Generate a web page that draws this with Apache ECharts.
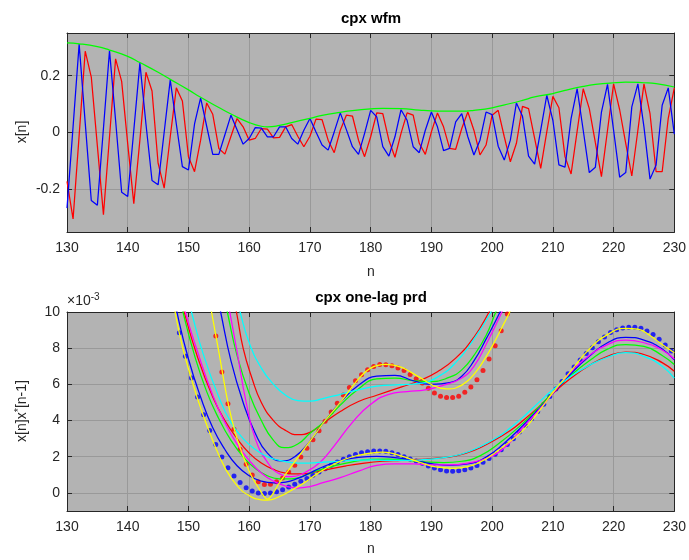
<!DOCTYPE html>
<html><head><meta charset="utf-8">
<script src="https://cdn.jsdelivr.net/npm/echarts@6/dist/echarts.min.js"></script>
<style>html,body{margin:0;padding:0;background:#fff}#c{width:689px;height:560px}</style>
</head><body><div id="c"></div>
<script>
// ---------- top panel: complex waveform ----------
const nTop = [130,131,132,133,134,135,136,137,138,139,140,141,142,143,144,145,146,147,148,149,
150,151,152,153,154,155,156,157,158,159,160,161,162,163,164,165,166,167,168,169,
170,171,172,173,174,175,176,177,178,179,180,181,182,183,184,185,186,187,188,189,
190,191,192,193,194,195,196,197,198,199,200,201,202,203,204,205,206,207,208,209,
210,211,212,213,214,215,216,217,218,219,220,221,222,223,224,225,226,227,228,229,230];
const reTop = [-0.266,0.02,0.311,0.034,-0.239,-0.256,0.014,0.288,0.043,-0.21,
-0.225,0.008,0.244,0.03,-0.169,-0.184,0.001,0.185,0.03,-0.12,
-0.132,0.03,0.122,0.022,-0.077,-0.077,-0.008,0.061,0.01,-0.041,
-0.021,0.017,0.015,-0.015,-0.015,0.02,0.02,-0.021,-0.041,0.008,
0.049,0.002,-0.044,-0.062,0.002,0.069,0.01,-0.05,-0.077,-0.003,
0.078,0.055,-0.05,-0.083,-0.015,0.08,0.043,-0.05,-0.071,0.008,
0.072,0.02,-0.064,-0.056,0.037,0.066,-0.015,-0.079,-0.027,0.072,
0.063,-0.048,-0.097,-0.027,0.104,0.057,-0.083,-0.111,0.008,0.131,
0.043,-0.114,-0.122,0.049,0.154,0.008,-0.141,-0.122,0.072,0.169,
0.008,-0.157,-0.141,0.09,0.171,0.02,-0.164,-0.114,0.096,0.157,-0.006];
const imTop = [-0.172,-0.304,-0.01,0.286,0.195,-0.047,-0.289,-0.015,0.259,0.18,
-0.04,-0.25,-0.027,0.212,0.146,-0.108,-0.196,-0.015,0.157,0.111,
-0.085,-0.138,-0.027,0.104,0.064,-0.056,-0.076,-0.013,0.049,0.02,
-0.027,-0.021,0.014,0.012,-0.019,-0.017,0.02,0.028,-0.013,-0.05,
-0.013,0.047,0.045,-0.027,-0.071,0.008,0.061,0.058,-0.027,-0.085,
-0.015,0.069,0.066,-0.027,-0.087,-0.003,0.069,0.061,-0.038,-0.077,
0.002,0.069,0.02,-0.056,-0.059,0.014,0.072,0.008,-0.079,-0.044,
0.061,0.078,-0.015,-0.103,-0.038,0.092,0.084,-0.021,-0.126,0.002,
0.127,0.087,-0.085,-0.146,0.005,0.154,0.084,-0.036,-0.155,0.008,
0.171,0.08,-0.038,-0.153,0.008,0.171,0.066,-0.138,-0.138,0.05,0.157];
const envN = [130,132,135,137,140,142,145,147,150,152,155,157,160,162,163,165,167,170,172,175,177,180,182,185,188,190,192,195,197,200,203,205,207,210,212,215,217,220,222,225,227,230];
const envV = [0.315,0.312,0.302,0.29,0.268,0.246,0.212,0.187,0.15,0.124,0.088,0.065,0.035,0.022,0.02,0.025,0.035,0.05,0.06,0.071,0.077,0.083,0.085,0.084,0.079,0.076,0.075,0.075,0.078,0.087,0.102,0.113,0.125,0.137,0.148,0.162,0.169,0.175,0.177,0.175,0.172,0.16];

// ---------- bottom panel: one-lag product (x1e-3) ----------
// upper family
const cyanB_n = [157.8,158.5,160,162,164,166,168,170,172,175,178,181,185,188,191,194,197,200,201];
const cyanB_v = [11,10,8.3,6.9,6.0,5.4,5.1,5.07,5.2,5.45,5.7,5.9,5.98,6.05,6.4,7.2,8.5,10.1,10.8];
const redB_n = [157.2,157.9,159,160.5,162,164,166,168,170,172,175,178,181,185,188,191,194,197,199.5,200.5];
const redB_v = [11,10,8.0,6.3,5.0,4.0,3.45,3.22,3.35,3.8,4.5,5.05,5.4,5.85,6.2,6.7,7.45,8.6,10,10.7];
const greenB_n = [155.8,156.4,158,160,162,164,165.8,168,170,172.4,175,178,181,184,187,190,193,195,197,199,200.6,201.5];
const greenB_v = [11,10,7.6,5.5,4.0,2.9,2.5,2.7,3.3,3.95,4.85,5.75,6.3,6.35,6.2,6.15,6.4,6.8,7.6,8.7,10,10.7];
const blueB_n = [154.7,155.3,157,159,161,163,165.3,167.5,170,172.4,175,178,181,184,187,190,193,195,197,199,201.3,202];
const blueB_v = [11,10,7.3,5.0,3.3,2.2,1.77,2.0,2.85,3.95,5.0,5.95,6.45,6.5,6.2,6.0,6.1,6.45,7.3,8.5,10,10.6];
const magentaB_n = [156.2,156.8,158,159.5,161,163,165,167,169,171.6,174,177,180,183,186,189,192,195,197,199,201.6,202.3];
const magentaB_v = [11,10,7.8,5.0,3.0,1.7,1.05,0.9,1.1,1.67,2.6,3.9,4.9,5.45,5.6,5.7,5.95,6.35,7.0,8.2,10,10.6];
const yellowB_n = [153.3,153.8,155,156.5,158,160,161.5,163,165,167,169,171,172.4,175,178,180,182.5,185,188,190.5,192.5,194,196,198,200,202,202.9,203.5];
const yellowB_v = [11,10,7.8,5.0,3.0,1.2,0.3,-0.35,0.57,1.5,2.4,3.3,3.95,5.0,6.3,6.9,7.1,6.95,6.4,5.9,5.75,5.8,6.2,7.0,8.1,9.4,10,10.5];
// lower family
const yellowA_n = [147.3,147.8,149,150.5,152,154,156,158,160,162,163,165,167,169,171.6,174,177,180,182,185,188,191,193.5,196,198,200,202,205,208,210,213,216,219,222,224,226,228,230];
const yellowA_v = [11,10,8.1,6.3,4.7,2.9,1.4,0.4,-0.15,-0.38,-0.4,-0.2,0.15,0.55,1.15,1.6,2.0,2.2,2.25,2.05,1.7,1.42,1.36,1.45,1.7,2.1,2.6,3.43,4.65,5.55,6.75,7.95,8.75,9.1,9.05,8.7,8.2,7.75];
const blueA_n = [147.6,148.1,150,152,154,156,158,160,162,164,166,168,170,172,175,178,181,184,187,190,193,196,199,202,205,208,210,213,216,219,222,225,228,230];
const blueA_v = [11,10,7.4,5.3,3.6,2.4,1.5,0.95,0.65,0.55,0.6,0.8,1.1,1.42,1.78,1.97,2.02,1.95,1.8,1.62,1.52,1.6,1.98,2.75,3.7,4.75,5.5,6.6,7.55,8.3,8.6,8.45,7.95,7.35];
const greenA_n = [148.5,149.1,151,153,155,157,159,161,163,165,167,169,171,174,177,180,183,186,189,192,195,198,201,205,208,210,213,216,219,222,225,228,230];
const greenA_v = [11,10,7.6,5.6,4.1,2.9,2.0,1.35,0.95,0.78,0.78,0.95,1.2,1.5,1.72,1.85,1.87,1.8,1.72,1.68,1.75,2.05,2.7,3.83,4.85,5.55,6.5,7.3,7.95,8.2,8.1,7.6,7.1];
const redA_n = [148.7,149.3,151.5,154,156,158,160,162,164,166,168,170,173,176,179,182,185,188,191,194,197,200,203,205,208,210,213,216,219,222,225,228,230];
const redA_v = [11,10,7.5,5.3,4.0,3.0,2.2,1.65,1.3,1.1,1.05,1.1,1.3,1.5,1.65,1.75,1.8,1.85,1.92,2.05,2.35,2.85,3.45,3.97,4.85,5.5,6.35,7.05,7.55,7.78,7.65,7.2,6.72];
const magentaA_n = [149,149.5,151.5,154,156,158,160,162,164,166,168,170,172,175,178,181,184,187,190,193,196,199,202,205,208,210,213,216,219,222,225,228,230];
const magentaA_v = [11,10,7.8,5.4,3.9,2.7,1.8,1.1,0.65,0.38,0.27,0.35,0.55,0.85,1.2,1.52,1.6,1.6,1.55,1.55,1.65,1.9,2.5,3.6,4.7,5.5,6.7,7.6,8.2,8.45,8.3,7.9,7.4];
const cyanA_n = [149.8,150.5,152.5,155,157,159,161,163,165,167,169,171,174,177,180,183,186,189,192,195,198,201,203,205,208,210,213,216,219,222,225,228,230];
const cyanA_v = [11,10,7.6,5.3,3.9,3.0,2.4,2.0,1.8,1.68,1.65,1.67,1.73,1.8,1.82,1.8,1.8,1.85,1.95,2.15,2.55,3.1,3.6,4.16,5.1,5.7,6.45,7.05,7.5,7.75,7.55,7.0,6.35];
// sampled products (dots)
const redDot_n = [154.5,155.5,156.5,157.5,158.5,159.5,160.5,161.5,162.5,163.5,164.5,165.5,166.5,167.5,168.5,169.5,170.5,171.5,172.5,173.5,174.5,175.5,176.5,177.5,178.5,179.5,180.5,181.5,182.5,183.5,184.5,185.5,186.5,187.5,188.5,189.5,190.5,191.5,192.5,193.5,194.5,195.5,196.5,197.5,198.5,199.5,200.5,201.5,202.5];
const redDot_v = [8.67,6.68,4.93,3.52,2.41,1.58,0.99,0.62,0.46,0.48,0.62,0.83,1.16,1.53,1.99,2.47,2.94,3.44,3.96,4.47,4.95,5.41,5.83,6.2,6.53,6.81,6.99,7.1,7.09,7.03,6.9,6.76,6.54,6.31,6.08,5.78,5.52,5.34,5.28,5.28,5.34,5.56,5.85,6.26,6.77,7.4,8.14,8.97,9.89];
const blueDot_n = [148.5,149.5,150.5,151.5,152.5,153.5,154.5,155.5,156.5,157.5,158.5,159.5,160.5,161.5,162.5,163.5,164.5,165.5,166.5,167.5,168.5,169.5,170.5,171.5,172.5,173.5,174.5,175.5,176.5,177.5,178.5,179.5,180.5,181.5,182.5,183.5,184.5,185.5,186.5,187.5,188.5,189.5,190.5,191.5,192.5,193.5,194.5,195.5,196.5,197.5,198.5,199.5,200.5,201.5,202.5,203.5,204.5,205.5,206.5,207.5,208.5,209.5,210.5,211.5,212.5,213.5,214.5,215.5,216.5,217.5,218.5,219.5,220.5,221.5,222.5,223.5,224.5,225.5,226.5,227.5,228.5,229.5];
const blueDot_v = [8.85,7.55,6.35,5.3,4.32,3.45,2.67,1.98,1.39,0.93,0.57,0.29,0.1,0.0,-0.03,0.0,0.07,0.18,0.33,0.48,0.64,0.8,0.98,1.15,1.33,1.53,1.71,1.86,2.0,2.12,2.22,2.28,2.31,2.32,2.3,2.22,2.12,2.0,1.88,1.77,1.64,1.49,1.37,1.28,1.21,1.2,1.22,1.28,1.37,1.51,1.69,1.9,2.14,2.38,2.68,3.0,3.36,3.72,4.1,4.5,4.9,5.33,5.75,6.16,6.58,6.96,7.34,7.7,8.03,8.35,8.62,8.86,9.02,9.11,9.16,9.16,9.1,8.95,8.76,8.5,8.18,7.85];

const xTicks = {min:130, max:230, interval:10};
const FONT = 'Liberation Sans, Arial, sans-serif';
const INK = '#262626';
const LW = 1.25;
const zip = (a,b) => a.map((v,i)=>[v,b[i]]);

function xAx(g, pos, main){
  return {type:'value', gridIndex:g, position:pos, min:xTicks.min, max:xTicks.max, interval:xTicks.interval,
    axisLine:{show:true, onZero:false, lineStyle:{color:INK, width:1}},
    axisTick:{show:true, inside:true, length:5, lineStyle:{color:INK}},
    axisLabel:{show:main, color:INK, fontSize:14, fontFamily:FONT, margin:9},
    splitLine:{show:main, lineStyle:{color:'#999999', width:1}}};
}
function yAx(g, pos, main, mn, mx, step){
  return {type:'value', gridIndex:g, position:pos, min:mn, max:mx, minInterval:step, maxInterval:step,
    axisLine:{show:true, onZero:false, lineStyle:{color:INK, width:1}},
    axisTick:{show:true, inside:true, length:5, lineStyle:{color:INK}},
    axisLabel:{show:main, color:INK, fontSize:14, fontFamily:FONT, margin:7, showMinLabel:false, showMaxLabel: mx===10},
    splitLine:{show:main, lineStyle:{color:'#999999', width:1}}};
}
function ln(x, y, color, xi, yi, smooth){
  return {type:'line', xAxisIndex:xi, yAxisIndex:yi, data:zip(x,y), showSymbol:false, symbol:'none',
    smooth: smooth, lineStyle:{color:color, width:LW}, itemStyle:{color:color}, silent:true, clip:true};
}

const series = [
  ln(nTop, imTop, '#ff0000', 0, 0, false),
  ln(nTop, reTop, '#0000ff', 0, 0, false),
  ln(envN, envV, '#00ff00', 0, 0, true),
  ln(redA_n, redA_v, '#ff0000', 2, 2, true),
  ln(redB_n, redB_v, '#ff0000', 2, 2, true),
  ln(greenA_n, greenA_v, '#00ff00', 2, 2, true),
  ln(greenB_n, greenB_v, '#00ff00', 2, 2, true),
  ln(blueA_n, blueA_v, '#0000ff', 2, 2, true),
  ln(blueB_n, blueB_v, '#0000ff', 2, 2, true),
  ln(magentaA_n, magentaA_v, '#ff00ff', 2, 2, true),
  ln(magentaB_n, magentaB_v, '#ff00ff', 2, 2, true),
  ln(cyanA_n, cyanA_v, '#00ffff', 2, 2, true),
  ln(cyanB_n, cyanB_v, '#00ffff', 2, 2, true),
  ln(yellowA_n, yellowA_v, '#ffff00', 2, 2, true),
  ln(yellowB_n, yellowB_v, '#ffff00', 2, 2, 0.3),
  {type:'scatter', xAxisIndex:2, yAxisIndex:2, data:zip(redDot_n, redDot_v), symbolSize:5, itemStyle:{color:'#ff0000'}, silent:true},
  {type:'scatter', xAxisIndex:2, yAxisIndex:2, data:zip(blueDot_n, blueDot_v), symbolSize:5, itemStyle:{color:'#0000ff'}, silent:true}
];

const option = {
  animation:false,
  grid:[
    {left:67, right:14, top:33, height:199, show:true, backgroundColor:'#b3b3b3', borderWidth:0},
    {left:67, right:14, top:312, height:199, show:true, backgroundColor:'#b3b3b3', borderWidth:0}
  ],
  xAxis:[xAx(0,'bottom',true), xAx(0,'top',false), xAx(1,'bottom',true), xAx(1,'top',false)],
  yAxis:[yAx(0,'left',true,-0.35,0.35,0.2), yAx(0,'right',false,-0.35,0.35,0.2),
         yAx(1,'left',true,-1,10,2), yAx(1,'right',false,-1,10,2)],
  graphic:[
    {type:'text', x:371, y:19, style:{text:'cpx wfm', font:'bold 15px '+FONT, fill:'#000', align:'center', verticalAlign:'middle'}},
    {type:'text', x:371, y:298, style:{text:'cpx one-lag prd', font:'bold 15px '+FONT, fill:'#000', align:'center', verticalAlign:'middle'}},
    {type:'text', x:371, y:272, style:{text:'n', font:'14px '+FONT, fill:INK, align:'center', verticalAlign:'middle'}},
    {type:'text', x:371, y:549, style:{text:'n', font:'14px '+FONT, fill:INK, align:'center', verticalAlign:'middle'}},
    {type:'text', x:22, y:132, rotation:Math.PI/2, style:{text:'x[n]', font:'14px '+FONT, fill:INK, align:'center', verticalAlign:'middle'}},
    {type:'text', x:22, y:411, rotation:Math.PI/2, style:{text:'x[n]x{sup|*}[n-1]', font:'14px '+FONT, fill:INK, align:'center', verticalAlign:'middle',
      rich:{sup:{font:'11px '+FONT, fill:INK, verticalAlign:'top', padding:[0,0,6,0]}}}},
    {type:'text', x:67, y:301, style:{text:'×10{sup|-3}', font:'14px '+FONT, fill:INK, align:'left', verticalAlign:'middle',
      rich:{sup:{font:'10px '+FONT, fill:INK, padding:[0,0,8,0]}}}}
  ],
  series:series
};
const chart = echarts.init(document.getElementById('c'), null, {renderer:'canvas'});
chart.setOption(option);
</script>
</body></html>
